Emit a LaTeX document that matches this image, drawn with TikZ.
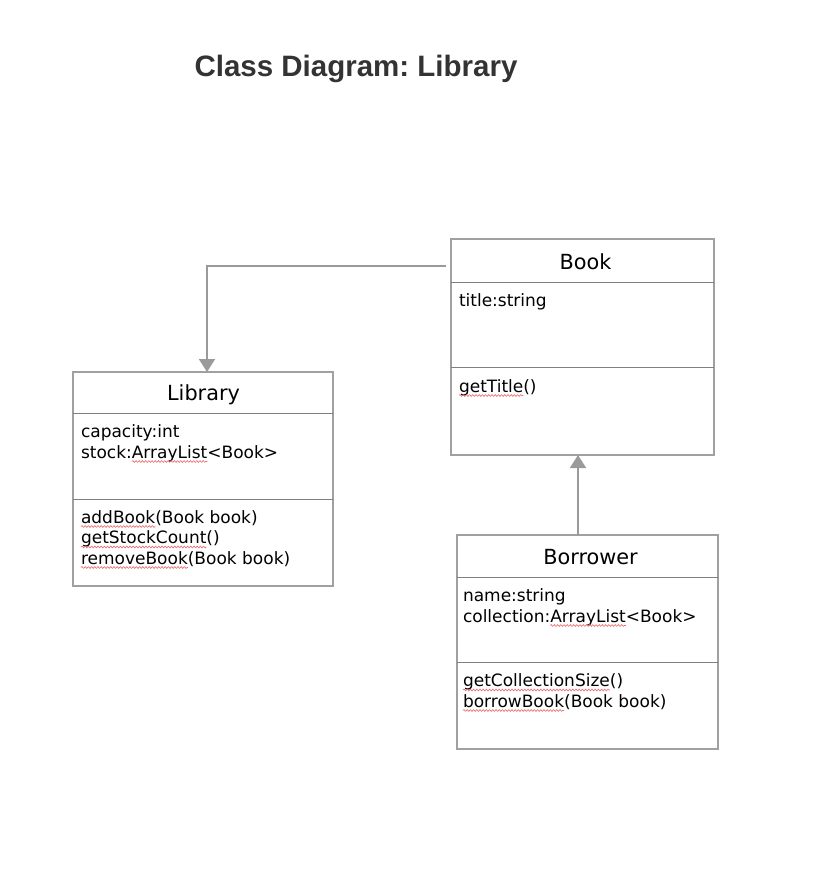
\documentclass[tikz,border=0pt]{standalone}
\usepackage{fontspec}
\setmainfont{DejaVu Sans}
\newfontfamily\titlefont{Liberation Sans}
\usetikzlibrary{arrows.meta,decorations.pathmorphing}
\frenchspacing
\definecolor{boxgray}{HTML}{A0A0A0}
\definecolor{sepgray}{HTML}{808080}
\definecolor{arrgray}{HTML}{9A9A9A}
\definecolor{titlegray}{HTML}{333333}
\definecolor{squigred}{HTML}{E86A6A}
\tikzset{
  classbox/.style={draw=boxgray, line width=1.8pt, fill=white, anchor=north west, inner sep=0pt, outer sep=0pt},
  sepline/.style={draw=sepgray, line width=1pt},
  conn/.style={draw=arrgray, line width=1.8pt, -{Triangle[width=16pt,length=13pt]}},
  cname/.style={font=\fontsize{20.8}{24}\selectfont, inner sep=0pt, anchor=base},
  txt/.style={font=\fontsize{17}{20}\selectfont, inner sep=0pt, outer sep=0pt, anchor=base west},
  squig/.style={draw=squigred, line width=0.6pt, decorate, decoration={snake, amplitude=0.9pt, segment length=3.2pt}}
}
\begin{document}
\begin{tikzpicture}[x=1pt,y=-1pt]
\useasboundingbox (0,0) rectangle (832,896);
% title
\node[font=\titlefont\bfseries\fontsize{29.5}{33}\selectfont, text=titlegray, anchor=base, inner sep=0pt] (title) at (356,77) {Class Diagram: Library};
% boxes
\node[classbox, minimum width=263pt, minimum height=216pt] (book) at (451,239) {};
\node[classbox, minimum width=260pt, minimum height=214pt] (library) at (73,372) {};
\node[classbox, minimum width=261pt, minimum height=214pt] (borrower) at (457,535) {};
% separators
\draw[sepline] (451,282) -- (714,282);
\draw[sepline] (451,367) -- (714,367);
\draw[sepline] (73,413) -- (333,413);
\draw[sepline] (73,499) -- (333,499);
\draw[sepline] (457,577) -- (718,577);
\draw[sepline] (457,662) -- (718,662);
% class names
\node[cname] (nbook) at (585.5,269) {Book};
\node[cname] (nlib) at (203.5,400) {Library};
\node[cname] (nbor) at (590.5,564) {Borrower};
% Library text
\node[txt] (l1) at (81,437) {capacity:int};
\node[txt] (l2a) at (81,458) {stock:};
\node[txt] (l2b) at (l2a.base east) {ArrayList};
\node[txt] (l2c) at (l2b.base east) {<Book>};
\node[txt] (l3a) at (81,523) {addBook};
\node[txt] (l3b) at (l3a.base east) {(Book book)};
\node[txt] (l4a) at (81,543.5) {getStockCount};
\node[txt] (l4b) at (l4a.base east) {()};
\node[txt] (l5a) at (81,564) {removeBook};
\node[txt] (l5b) at (l5a.base east) {(Book book)};
% Book text
\node[txt] (b1) at (459,306) {title:string};
\node[txt] (b2a) at (459,392) {getTitle};
\node[txt] (b2b) at (b2a.base east) {()};
% Borrower text
\node[txt] (r1) at (463,601.5) {name:string};
\node[txt] (r2a) at (463,622) {collection:};
\node[txt] (r2b) at (r2a.base east) {ArrayList};
\node[txt] (r2c) at (r2b.base east) {<Book>};
\node[txt] (r3a) at (463,686.5) {getCollectionSize};
\node[txt] (r3b) at (r3a.base east) {()};
\node[txt] (r4a) at (463,707) {borrowBook};
\node[txt] (r4b) at (r4a.base east) {(Book book)};
% squiggles
\foreach \w in {l2b,l3a,l4a,l5a,b2a,r2b,r3a,r4a}{
  \draw[squig] ([yshift=-3.5pt]\w.base west) -- ([yshift=-3.5pt]\w.base east);
}
% connectors
\coordinate (bookin) at (446,266);
\coordinate (libx) at (207,0);
\coordinate (arrx) at (578,0);
\draw[conn] (bookin) -| (libx |- library.north);
\draw[conn] (arrx |- borrower.north) -- (arrx |- book.south);
\end{tikzpicture}
\end{document}
